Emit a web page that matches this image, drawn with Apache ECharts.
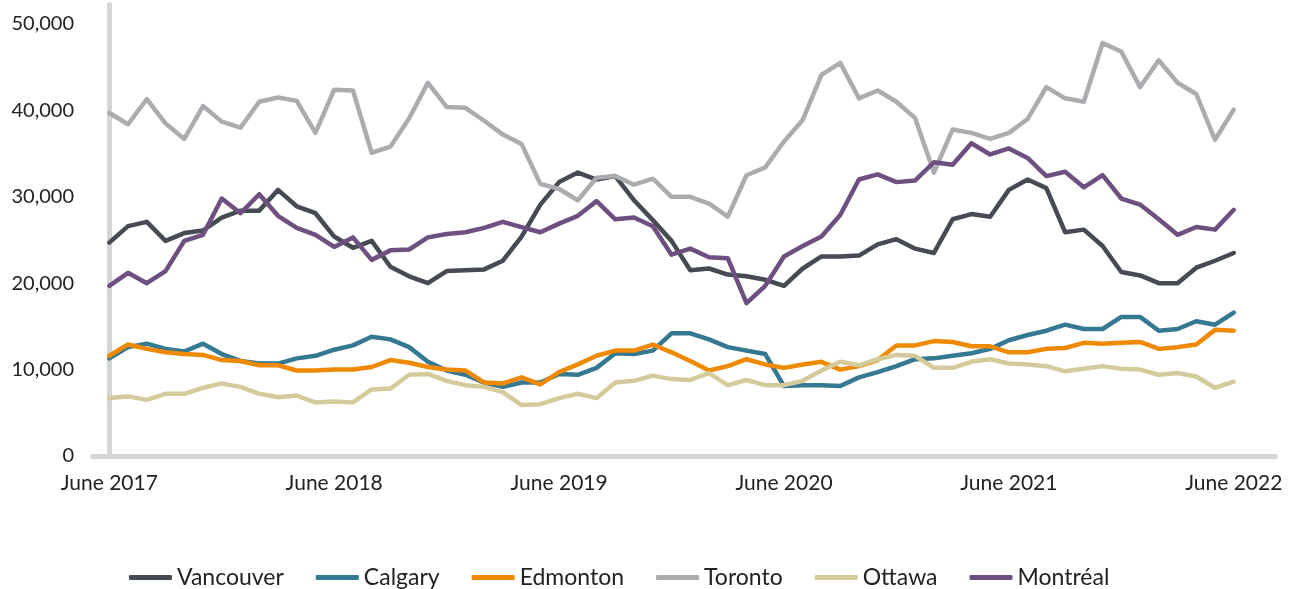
<!DOCTYPE html>
<html>
<head>
<meta charset="utf-8">
<title>Rents by city</title>
<script src="https://cdn.jsdelivr.net/npm/echarts@6/dist/echarts.min.js"></script>
<style>
  html, body { margin: 0; padding: 0; background: #fff; }
  #chart { width: 1293px; height: 589px; }
</style>
</head>
<body>
<div id="chart"></div>
<script>
// monthly, June 2017 .. June 2022 (61 points)
const cities = ["Vancouver", "Calgary", "Edmonton", "Toronto", "Ottawa", "Montréal"];
const colors = ["#464a52", "#347891", "#ef8a00", "#abacaf", "#d4ca9b", "#6d4f80"];

const vancouver = [24700, 26600, 27100, 24900, 25800, 26100, 27600, 28400, 28400, 30800,
  28900, 28100, 25400, 24100, 24900, 21900, 20800, 20000, 21400, 21500,
  21600, 22600, 25400, 29100, 31700, 32800, 32000, 32400, 29600, 27300,
  24900, 21500, 21700, 21000, 20800, 20400, 19700, 21700, 23100, 23100,
  23200, 24500, 25100, 24000, 23500, 27400, 28000, 27700, 30800, 32000,
  31000, 25900, 26200, 24300, 21300, 20900, 20000, 20000, 21800, 22600, 23500];

const calgary = [11300, 12600, 13000, 12400, 12100, 13000, 11800, 11000, 10700, 10700,
  11300, 11600, 12300, 12800, 13800, 13500, 12600, 10900, 9900, 9400,
  8500, 8000, 8500, 8500, 9500, 9400, 10200, 11900, 11800, 12200,
  14200, 14200, 13500, 12600, 12200, 11800, 8100, 8200, 8200, 8100,
  9100, 9700, 10400, 11200, 11300, 11600, 11900, 12400, 13400, 14000,
  14500, 15200, 14700, 14700, 16100, 16100, 14500, 14700, 15600, 15200, 16600];

const edmonton = [11600, 12900, 12400, 12000, 11800, 11700, 11100, 11000, 10500, 10500,
  9900, 9900, 10000, 10000, 10300, 11100, 10800, 10300, 10000, 9900,
  8500, 8400, 9100, 8300, 9700, 10600, 11600, 12200, 12200, 12900,
  12000, 11000, 9900, 10400, 11200, 10600, 10200, 10600, 10900, 10000,
  10400, 11100, 12800, 12800, 13300, 13200, 12700, 12700, 12000, 12000,
  12400, 12500, 13100, 13000, 13100, 13200, 12400, 12600, 12900, 14600, 14500];

const toronto = [39700, 38400, 41300, 38500, 36700, 40500, 38700, 38000, 41000, 41500,
  41100, 37400, 42400, 42300, 35100, 35800, 39100, 43200, 40400, 40300,
  38800, 37200, 36100, 31500, 30900, 29600, 32200, 32400, 31400, 32100,
  30000, 30000, 29200, 27700, 32500, 33400, 36400, 38900, 44100, 45500,
  41400, 42300, 41000, 39100, 32800, 37800, 37400, 36700, 37400, 39000,
  42700, 41400, 41000, 47800, 46800, 42700, 45800, 43200, 41900, 36600, 40100];

const ottawa = [6700, 6900, 6500, 7200, 7200, 7900, 8400, 8000, 7200, 6800,
  7000, 6200, 6300, 6200, 7700, 7800, 9400, 9500, 8700, 8200,
  8000, 7400, 5900, 6000, 6700, 7200, 6700, 8500, 8700, 9300,
  8900, 8800, 9600, 8200, 8800, 8200, 8200, 8700, 9900, 10900,
  10500, 11200, 11700, 11600, 10200, 10200, 10900, 11200, 10700, 10600,
  10400, 9800, 10100, 10400, 10100, 10000, 9400, 9600, 9200, 7900, 8600];

const montreal = [19700, 21200, 20000, 21400, 24900, 25600, 29800, 28100, 30300, 27800,
  26400, 25600, 24200, 25300, 22700, 23800, 23900, 25300, 25700, 25900,
  26400, 27100, 26500, 25900, 26900, 27800, 29500, 27400, 27600, 26600,
  23300, 24000, 23000, 22900, 17700, 19700, 23100, 24300, 25400, 27900,
  32000, 32600, 31700, 31900, 34000, 33700, 36200, 34900, 35600, 34500,
  32400, 32900, 31100, 32500, 29800, 29100, 27400, 25600, 26500, 26200, 28500];

const yTicks = [0, 10000, 20000, 30000, 40000, 50000];
const xTickPos = [0, 12, 24, 36, 48, 60];
const xTickLabels = ["June 2017", "June 2018", "June 2019", "June 2020", "June 2021", "June 2022"];

const allData = [vancouver, calgary, edmonton, toronto, ottawa, montreal];

const chart = echarts.init(document.getElementById("chart"));

const option = {
  animation: false,
  textStyle: { fontFamily: "Lato" },
  grid: { left: 93, right: 18, top: 5, bottom: 133 },
  legend: {
    left: 124,
    top: 561,
    icon: "roundRect",
    itemWidth: 43,
    itemHeight: 5,
    itemGap: 32,
    textStyle: { fontSize: 23, color: "#222", fontFamily: "Lato" },
    data: cities
  },
  xAxis: {
    type: "value",
    min: -0.87,
    max: 62.2,
    splitLine: { show: false },
    axisTick: { show: false },
    axisLine: { show: true, lineStyle: { color: "#d4d5d7", width: 5, cap: "square" } },
    axisLabel: {
      customValues: xTickPos,
      margin: 17,
      fontSize: 21,
      color: "#222",
      formatter: function (v) {
        const i = xTickPos.indexOf(v);
        return i >= 0 ? xTickLabels[i] : "";
      }
    }
  },
  yAxis: {
    type: "value",
    min: 0,
    max: 52200,
    splitLine: { show: false },
    axisTick: { show: false },
    axisLine: { show: true, lineStyle: { color: "#d4d5d7", width: 5, cap: "square" } },
    axisLabel: {
      customValues: yTicks,
      margin: 19,
      fontSize: 20,
      color: "#222",
      formatter: function (v) { return v.toLocaleString("en-US"); }
    }
  },
  series: cities.map((name, k) => ({
    name: name,
    type: "line",
    symbol: "none",
    color: colors[k],
    lineStyle: { width: 4.5, color: colors[k], cap: "round", join: "round" },
    data: allData[k].map((v, i) => [i, v])
  }))
};

chart.setOption(option);
</script>
</body>
</html>
